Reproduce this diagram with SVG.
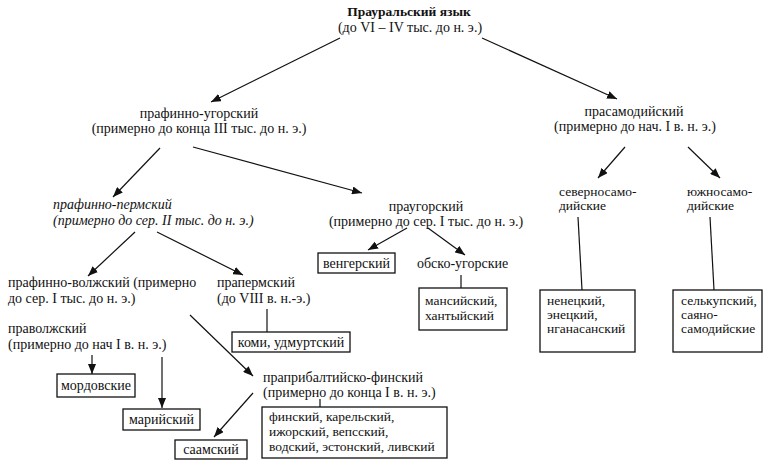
<svg xmlns="http://www.w3.org/2000/svg" width="765" height="462" viewBox="0 0 765 462">
<defs>
<marker id="ah" viewBox="0 0 10 8" refX="10" refY="4" markerWidth="10" markerHeight="8" markerUnits="userSpaceOnUse" orient="auto">
<path d="M0,0 L10,4 L0,8 Z" fill="#111"/>
</marker>
<style>
text{font-family:"Liberation Serif","DejaVu Serif",serif;font-size:14px;fill:#111}
.b{font-weight:bold;font-size:13.5px}
.i{font-style:italic}
.m{text-anchor:middle}
.s{font-size:13.5px}
.box{fill:#fff;stroke:#111;stroke-width:1.3}
.ln{stroke:#111;stroke-width:1.2;fill:none}
.ar{stroke:#111;stroke-width:1.2;fill:none;marker-end:url(#ah)}
</style>
</defs>
<rect width="765" height="462" fill="#fff"/>
<g id="connectors">
<line class="ar" x1="340" y1="38" x2="211" y2="102"/>
<line class="ar" x1="482" y1="38" x2="617" y2="99"/>
<line class="ar" x1="193" y1="147" x2="362" y2="193"/>
<line class="ar" x1="160" y1="148" x2="113" y2="197"/>
<line class="ar" x1="625" y1="147" x2="598" y2="178"/>
<line class="ar" x1="688" y1="147" x2="720" y2="178"/>
<line class="ar" x1="135" y1="232" x2="88" y2="276"/>
<line class="ar" x1="157" y1="232" x2="243" y2="275"/>
<line class="ar" x1="407" y1="228" x2="368" y2="250"/>
<line class="ar" x1="428" y1="228" x2="465" y2="255"/>
<line class="ln" x1="461" y1="275" x2="461" y2="288"/>
<line class="ln" x1="578" y1="217" x2="582" y2="290"/>
<line class="ln" x1="710" y1="217" x2="714" y2="290"/>
<line class="ln" x1="267" y1="309" x2="267" y2="332"/>
<line class="ar" x1="92" y1="355" x2="92" y2="374"/>
<line class="ar" x1="162" y1="357" x2="162" y2="408"/>
<line class="ar" x1="190" y1="315" x2="253" y2="376"/>
<line class="ar" x1="253" y1="393" x2="214" y2="437"/>
<line class="ln" x1="320" y1="399" x2="320" y2="407"/>
</g>
<g id="n-proto-uralic">
<text class="b m" x="409" y="16">Прауральский  язык</text>
<text class="m" x="410" y="32">(до VI – IV тыс. до н. э.)</text>
</g>
<g id="n-finno-ugric">
<text class="m" x="199" y="118">прафинно-угорский</text>
<text class="m" x="199" y="133">(примерно до конца III тыс. до н. э.)</text>
</g>
<g id="n-samoyedic">
<text class="m" x="634" y="116">прасамодийский</text>
<text class="m" x="635" y="131">(примерно до нач. I в. н. э.)</text>
</g>
<g id="n-finno-permic">
<text class="i" x="53" y="209">прафинно-пермский</text>
<text class="i" x="53" y="225">(примерно до сер. II тыс. до н. э.)</text>
</g>
<g id="n-ugric">
<text class="m" x="426" y="211">праугорский</text>
<text class="m" x="426" y="226">(примерно до сер. I тыс. до н. э.)</text>
</g>
<g id="n-n-samoyedic">
<text class="s" x="559" y="196">северносамо-</text>
<text class="s" x="559" y="210">дийские</text>
</g>
<g id="n-s-samoyedic">
<text class="s" x="687" y="196">южносамо-</text>
<text class="s" x="687" y="210">дийские</text>
</g>
<g id="n-hungarian">
<rect class="box" x="318" y="253" width="77" height="20"/>
<text class="m" x="356.5" y="268">венгерский</text>
</g>
<g id="n-ob-ugric">
<text x="417" y="268">обско-угорские</text>
</g>
<g id="n-mansi">
<rect class="box" x="419" y="288" width="88" height="42"/>
<text class="s" x="425" y="305">мансийский,</text>
<text class="s" x="425" y="320">хантыйский</text>
</g>
<g id="n-nenets">
<rect class="box" x="540" y="290" width="95" height="62"/>
<text class="s" x="547" y="305">ненецкий,</text>
<text class="s" x="547" y="319">энецкий,</text>
<text class="s" x="547" y="333">нганасанский</text>
</g>
<g id="n-selkup">
<rect class="box" x="673" y="290" width="89" height="62"/>
<text class="s" x="681" y="305">селькупский,</text>
<text class="s" x="681" y="319">саяно-</text>
<text class="s" x="681" y="333">самодийские</text>
</g>
<g id="n-finno-volgaic">
<text x="8" y="287">прафинно-волжский (примерно</text>
<text x="8" y="303">до сер. I тыс. до н. э.)</text>
</g>
<g id="n-permic">
<text x="217" y="287">прапермский</text>
<text x="217" y="303">(до VIII в. н.-э.)</text>
</g>
<g id="n-komi">
<rect class="box" x="232" y="332" width="118" height="20"/>
<text class="m" x="291" y="347">коми, удмуртский</text>
</g>
<g id="n-volgaic">
<text x="8" y="333">праволжский</text>
<text x="8" y="349">(примерно до нач I в. н. э.)</text>
</g>
<g id="n-mordvinic">
<rect class="box" x="57" y="374" width="78" height="23"/>
<text class="m" x="96" y="390">мордовские</text>
</g>
<g id="n-mari">
<rect class="box" x="123" y="409" width="77" height="21"/>
<text class="m" x="161.5" y="424">марийский</text>
</g>
<g id="n-sami">
<rect class="box" x="175" y="440" width="72" height="19"/>
<text class="m" x="211" y="454">саамский</text>
</g>
<g id="n-finnic">
<text x="263" y="382">праприбалтийско-финский</text>
<text x="263" y="397">(примерно до конца I в. н. э.)</text>
</g>
<g id="n-finnic-langs">
<rect class="box" x="262" y="407" width="185" height="51"/>
<text class="s" x="269" y="421">финский, карельский,</text>
<text class="s" x="269" y="436">ижорский, вепсский,</text>
<text class="s" x="269" y="451">водский, эстонский, ливский</text>
</g>
</svg>
